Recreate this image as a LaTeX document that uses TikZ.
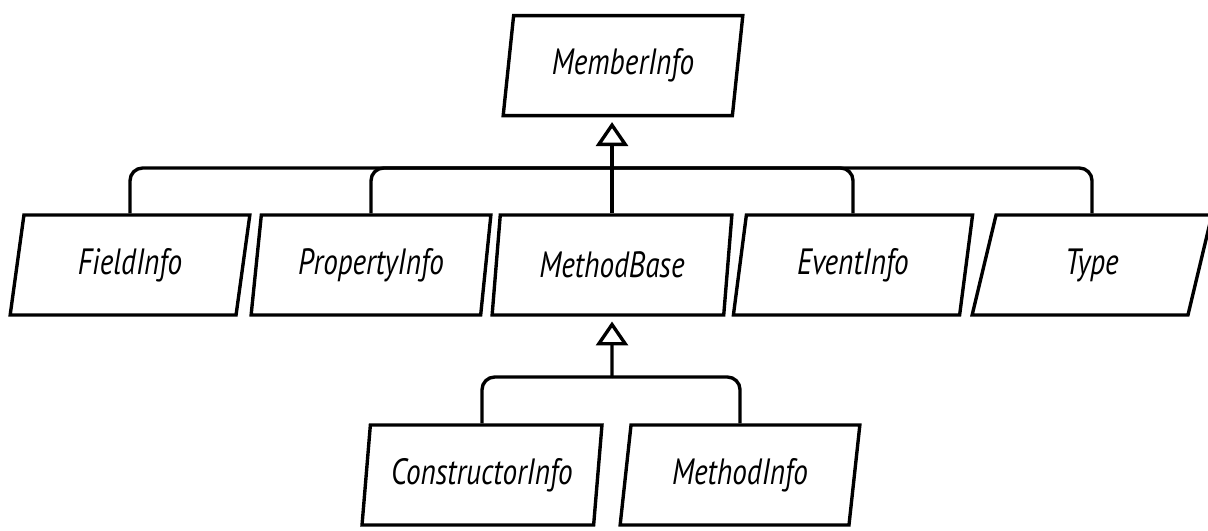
\documentclass[tikz,border=0pt]{standalone}
\usepackage{fontspec}
\newfontfamily\classfont[FakeStretch=0.8]{PT Sans}
\usetikzlibrary{shapes.geometric,arrows.meta}

\tikzset{
  classbox/.style={draw, line width=2.4pt, trapezium, trapezium left angle=78.6,
    trapezium right angle=101.4, trapezium stretches=true,
    minimum width=6cm, minimum height=2.5cm, inner sep=0pt,
    font=\classfont\itshape\fontsize{26}{30}\selectfont},
  link/.style={line width=2.4pt, rounded corners=9pt},
  inherit/.style={line width=2.4pt, -{Triangle[open, length=0.6cm, width=0.8cm]},
    shorten >=0.12cm}
}

\begin{document}
\begin{tikzpicture}

\useasboundingbox (0,0) rectangle (30.2,13.25);

\node[classbox] (member) at (15.575,11.61) {MemberInfo};

\node[classbox] (field) at (3.25,6.625) {FieldInfo};
\node[classbox] (property) at (9.275,6.625) {PropertyInfo};
\node[classbox] (methodbase) at (15.3,6.625) {MethodBase};
\node[classbox] (event) at (21.325,6.625) {EventInfo};
\node[classbox] (type) at (27.3,6.625) {Type};

\node[classbox] (ctor) at (12.05,1.375) {ConstructorInfo};
\node[classbox] (method) at (18.5,1.375) {MethodInfo};

\coordinate (bar) at (15.3,9.05);
\coordinate (bar2) at (15.3,3.825);

\draw[link] (field.north) |- (bar);
\draw[link] (property.north) |- (bar);
\draw[link] (event.north) |- (bar);
\draw[link] (type.north) |- (bar);
\draw[inherit] (methodbase.north) -- (methodbase.north |- member.south);

\draw[link] (ctor.north) |- (bar2);
\draw[link] (method.north) |- (bar2);
\draw[inherit] (bar2) -- (methodbase.south);

\end{tikzpicture}
\end{document}
